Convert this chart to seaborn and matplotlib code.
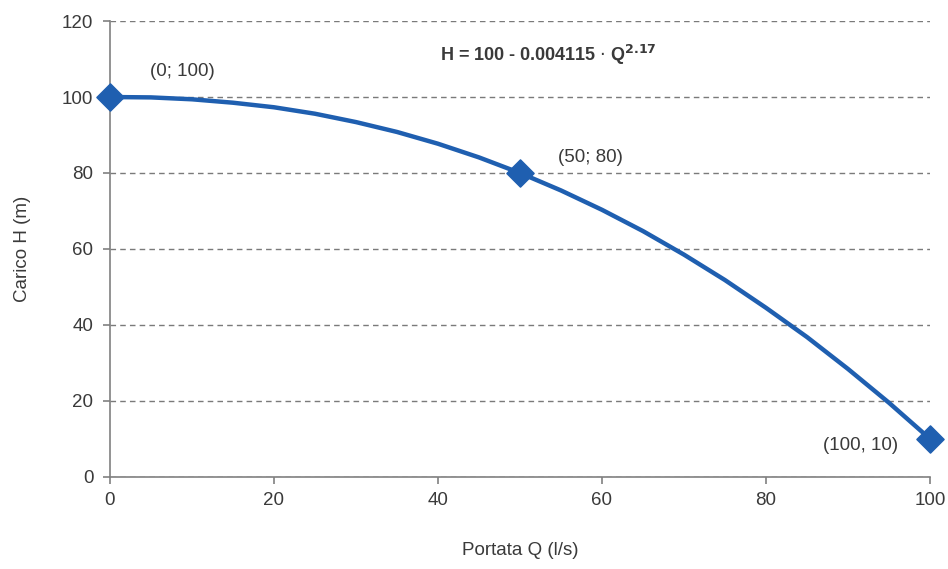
import numpy as np
import pandas as pd
import matplotlib
matplotlib.use("Agg")
from matplotlib import pyplot as plt
import seaborn as sns

sns.set_theme(style='white')
plt.rcParams['font.family'] = ['Liberation Sans', 'DejaVu Sans']

# curve (portata Q, carico H)
q_curve = [0, 5, 10, 15, 20, 25, 30, 35, 40, 45, 50,
           55, 60, 65, 70, 75, 80, 85, 90, 95, 100]
h_curve = [100, 99.9, 99.4, 98.5, 97.3, 95.6, 93.4, 90.8, 87.7, 84.1, 80,
           75.4, 70.3, 64.7, 58.5, 51.8, 44.5, 36.8, 28.4, 19.5, 10]

# marked points
q_pts = [0, 50, 100]
h_pts = [100, 80, 10]
pt_labels = ['(0; 100)', '(50; 80)', '(100, 10)']

formula = r'H = 100 - 0.004115 $\cdot$ Q$^{\mathbf{2.17}}$'

blue = '#1f5fb0'
txt = '#3a3a3a'

df = pd.DataFrame({'Q': q_curve, 'H': h_curve})
dp = pd.DataFrame({'Q': q_pts, 'H': h_pts})

fig = plt.figure(figsize=(9.48, 5.69), dpi=100)
ax = fig.add_axes([0.116, 0.162, 0.865, 0.801])

sns.lineplot(data=df, x='Q', y='H', color=blue, linewidth=3.2, ax=ax)
sns.scatterplot(data=dp, x='Q', y='H', marker='D', s=190, color=blue,
                edgecolor=blue, zorder=5, clip_on=False, ax=ax)

ax.set_xlim(0, 100)
ax.set_ylim(0, 120)
ax.set_xticks(range(0, 101, 20))
ax.set_yticks(range(0, 121, 20))
ax.yaxis.grid(True, linestyle=(0, (4, 3)), color='#7a7a7a', linewidth=1)
ax.set_axisbelow(True)

for s in ['top', 'right']:
    ax.spines[s].set_visible(False)
for s in ['left', 'bottom']:
    ax.spines[s].set_color('#808080')
    ax.spines[s].set_linewidth(1.2)

ax.tick_params(axis='both', which='major', length=5, width=1.2,
               color='#808080', labelsize=13.5, labelcolor=txt,
               bottom=True, left=True)
ax.tick_params(axis='y', pad=7)
ax.tick_params(axis='x', pad=6)

ax.set_xlabel('Portata Q (l/s)', fontsize=13.5, color=txt, labelpad=24)
ax.set_ylabel('Carico H (m)', fontsize=13.5, color=txt, labelpad=22)

ax.annotate(pt_labels[0], (4.9, 106.6), ha='left', va='center',
            fontsize=13.5, color=txt)
ax.annotate(pt_labels[1], (54.6, 84.2), ha='left', va='center',
            fontsize=13.5, color=txt)
ax.annotate(pt_labels[2], (96.1, 8.2), ha='right', va='center',
            fontsize=13.5, color=txt)
ax.text(53.4, 111, formula, ha='center', va='center', fontsize=13,
        fontweight='bold', color=txt)

plt.savefig('out.png', dpi=100)
